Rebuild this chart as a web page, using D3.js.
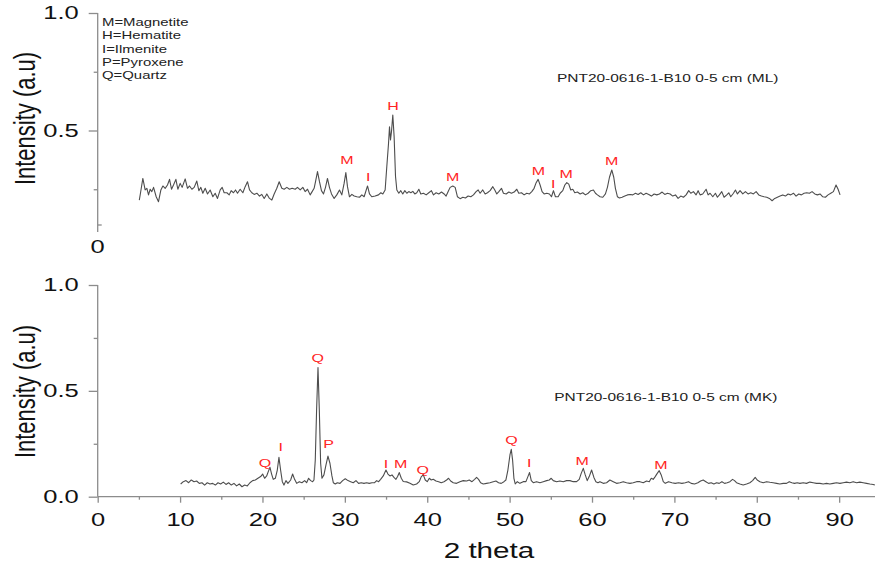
<!DOCTYPE html>
<html>
<head>
<meta charset="utf-8">
<script src="https://cdn.jsdelivr.net/npm/d3@7"></script>
<style>
body { margin: 0; background: #fff; }
text { font-family: "Liberation Sans", Arial, sans-serif; fill: #111; }
</style>
</head>
<body>
<div id="chart"></div>
<script>
// data
const mlTheta = [5.05,5.20,5.48,5.76,5.97,6.17,6.37,6.57,6.78,7.10,7.38,7.67,7.91,8.19,8.47,8.72,8.96,9.20,9.49,9.73,10.01,10.25,10.62,10.90,11.15,11.43,11.71,12.03,12.28,12.52,12.76,13.05,13.33,13.65,13.98,14.26,14.54,14.87,15.11,15.35,15.68,15.96,16.20,16.48,16.73,16.97,17.29,17.62,17.90,18.18,18.43,18.71,18.99,19.32,19.64,19.92,20.21,20.53,20.85,21.14,21.42,21.74,22.03,22.35,22.63,22.96,23.28,23.60,23.97,24.25,24.58,24.90,25.18,25.47,25.79,26.03,26.27,26.44,26.68,26.92,27.16,27.41,27.65,27.89,28.13,28.38,28.70,29.02,29.35,29.63,29.91,30.12,30.32,30.56,30.85,31.13,31.45,31.78,32.06,32.34,32.75,32.99,33.27,33.68,34.08,34.37,34.61,34.89,35.09,35.30,35.42,35.54,35.66,35.82,35.98,36.15,36.31,36.55,36.79,37.03,37.28,37.52,37.76,38.01,38.25,38.49,38.73,38.98,39.22,39.54,39.87,40.19,40.51,40.76,41.08,41.40,41.73,42.05,42.29,42.54,42.78,43.10,43.39,43.67,43.99,44.32,44.64,44.96,45.29,45.61,45.93,46.18,46.42,46.74,47.03,47.31,47.63,47.96,48.20,48.44,48.69,49.01,49.25,49.58,49.90,50.22,50.55,50.87,51.11,51.44,51.76,52.08,52.41,52.69,52.97,53.22,53.46,53.70,53.94,54.19,54.51,54.83,55.08,55.32,55.56,55.89,56.13,56.45,56.70,56.94,57.18,57.42,57.67,57.91,58.23,58.56,58.88,59.20,59.53,59.85,60.17,60.42,60.66,60.98,61.31,61.63,61.87,62.12,62.40,62.64,62.84,63.09,63.33,63.65,63.98,64.30,64.62,64.95,65.27,65.60,65.92,66.24,66.57,66.89,67.21,67.54,67.86,68.18,68.51,68.83,69.16,69.48,69.80,70.13,70.45,70.77,71.10,71.42,71.74,71.99,72.31,72.63,72.88,73.12,73.44,73.85,74.09,74.33,74.66,74.98,75.22,75.46,75.75,76.03,76.36,76.60,76.84,77.17,77.41,77.65,77.97,78.30,78.62,78.94,79.27,79.59,79.92,80.24,80.56,80.89,81.21,81.53,81.86,82.18,82.50,82.83,83.15,83.48,83.80,84.12,84.45,84.77,85.09,85.42,85.74,86.06,86.39,86.71,87.04,87.36,87.68,88.01,88.33,88.65,88.98,89.30,89.62,89.87,90.11];
const mlIntensity = [0.204,0.235,0.296,0.247,0.254,0.226,0.250,0.240,0.258,0.218,0.197,0.247,0.264,0.254,0.268,0.292,0.250,0.268,0.292,0.250,0.275,0.258,0.294,0.254,0.264,0.250,0.258,0.285,0.244,0.258,0.233,0.254,0.230,0.247,0.218,0.233,0.211,0.247,0.258,0.235,0.235,0.226,0.244,0.235,0.247,0.233,0.250,0.235,0.261,0.282,0.247,0.235,0.228,0.233,0.221,0.228,0.211,0.230,0.211,0.204,0.230,0.254,0.282,0.254,0.250,0.258,0.250,0.254,0.250,0.258,0.247,0.258,0.240,0.250,0.226,0.240,0.254,0.282,0.325,0.282,0.244,0.230,0.258,0.296,0.258,0.230,0.211,0.226,0.247,0.226,0.275,0.321,0.261,0.218,0.228,0.221,0.218,0.216,0.226,0.218,0.264,0.230,0.218,0.221,0.226,0.235,0.230,0.247,0.346,0.445,0.516,0.460,0.495,0.566,0.474,0.304,0.247,0.233,0.244,0.230,0.244,0.233,0.240,0.235,0.241,0.230,0.235,0.250,0.230,0.233,0.226,0.235,0.244,0.226,0.235,0.230,0.238,0.230,0.221,0.240,0.258,0.264,0.258,0.218,0.210,0.216,0.213,0.221,0.218,0.226,0.240,0.247,0.233,0.247,0.230,0.235,0.244,0.261,0.247,0.230,0.240,0.254,0.233,0.230,0.238,0.233,0.238,0.250,0.233,0.235,0.226,0.233,0.230,0.240,0.254,0.278,0.292,0.268,0.240,0.230,0.233,0.230,0.218,0.244,0.218,0.218,0.233,0.244,0.268,0.278,0.272,0.247,0.250,0.235,0.238,0.230,0.235,0.226,0.233,0.244,0.247,0.233,0.226,0.218,0.216,0.230,0.258,0.301,0.332,0.301,0.254,0.218,0.213,0.216,0.221,0.226,0.228,0.226,0.233,0.228,0.235,0.226,0.233,0.228,0.221,0.230,0.226,0.230,0.238,0.228,0.233,0.230,0.221,0.226,0.211,0.221,0.216,0.226,0.244,0.233,0.240,0.226,0.244,0.226,0.230,0.250,0.226,0.233,0.218,0.233,0.216,0.226,0.240,0.216,0.226,0.235,0.218,0.233,0.247,0.230,0.244,0.230,0.240,0.230,0.235,0.230,0.240,0.226,0.221,0.218,0.216,0.211,0.201,0.211,0.216,0.221,0.226,0.221,0.230,0.226,0.233,0.221,0.230,0.226,0.233,0.235,0.233,0.240,0.230,0.226,0.230,0.218,0.216,0.226,0.233,0.240,0.268,0.250,0.226];

const mkTheta = [10.07,10.39,10.72,11.04,11.36,11.69,12.01,12.33,12.66,12.98,13.30,13.63,13.95,14.28,14.60,14.92,15.25,15.57,15.89,16.22,16.54,16.86,17.19,17.51,17.84,18.16,18.48,18.81,19.13,19.45,19.78,20.02,20.26,20.51,20.75,20.91,21.11,21.31,21.56,21.80,22.00,22.20,22.41,22.61,22.85,23.09,23.42,23.66,23.90,24.15,24.47,24.79,25.12,25.36,25.60,25.85,26.09,26.25,26.41,26.57,26.74,26.90,27.06,27.22,27.46,27.71,27.95,28.19,28.43,28.60,28.84,29.08,29.41,29.73,30.05,30.38,30.70,31.02,31.35,31.67,31.99,32.32,32.64,32.96,33.29,33.61,33.86,34.10,34.34,34.66,34.99,35.23,35.47,35.72,35.96,36.20,36.40,36.61,36.85,37.09,37.50,37.90,38.30,38.71,39.03,39.28,39.52,39.76,40.00,40.25,40.49,40.73,41.06,41.38,41.70,42.03,42.35,42.59,42.84,43.16,43.56,43.97,44.37,44.78,45.10,45.43,45.75,45.99,46.23,46.48,46.80,47.20,47.61,48.01,48.34,48.66,48.98,49.31,49.55,49.79,50.04,50.20,50.36,50.52,50.68,50.93,51.25,51.65,51.98,52.22,52.42,52.63,52.87,53.27,53.68,54.08,54.49,54.81,55.05,55.30,55.70,56.10,56.51,56.91,57.32,57.72,58.13,58.45,58.69,58.94,59.18,59.42,59.66,59.95,60.23,60.47,60.72,60.96,61.36,61.77,62.17,62.58,62.98,63.39,63.79,64.19,64.60,65.00,65.41,65.81,66.22,66.62,66.95,67.19,67.43,67.67,67.92,68.16,68.40,68.65,68.89,69.29,69.70,70.10,70.51,70.91,71.32,71.72,72.04,72.45,72.85,73.18,73.50,73.82,74.15,74.47,74.79,75.12,75.44,75.77,76.09,76.41,76.74,77.06,77.30,77.54,77.95,78.35,78.76,79.16,79.49,79.81,80.05,80.38,80.78,81.19,81.59,81.99,82.40,82.80,83.21,83.61,83.94,84.26,84.58,84.91,85.23,85.64,86.04,86.44,86.85,87.25,87.66,88.06,88.47,88.87,89.28,89.68,90.09,90.49,90.89,91.30,91.70,92.11,92.51,92.92,93.32,93.73,94.13,94.33];
const mkIntensity = [0.060,0.071,0.076,0.066,0.079,0.071,0.074,0.063,0.066,0.055,0.066,0.060,0.063,0.055,0.066,0.060,0.069,0.058,0.066,0.055,0.063,0.051,0.060,0.047,0.055,0.051,0.066,0.076,0.079,0.087,0.095,0.107,0.087,0.098,0.123,0.139,0.107,0.082,0.087,0.126,0.186,0.126,0.071,0.055,0.076,0.063,0.079,0.107,0.082,0.063,0.071,0.066,0.076,0.066,0.087,0.076,0.071,0.079,0.173,0.410,0.610,0.410,0.158,0.087,0.103,0.150,0.192,0.158,0.098,0.066,0.060,0.066,0.063,0.076,0.085,0.076,0.071,0.066,0.076,0.063,0.066,0.063,0.066,0.063,0.066,0.066,0.076,0.071,0.082,0.098,0.126,0.107,0.098,0.103,0.091,0.082,0.095,0.114,0.087,0.072,0.070,0.064,0.055,0.060,0.071,0.095,0.103,0.079,0.071,0.087,0.079,0.082,0.074,0.071,0.066,0.071,0.079,0.087,0.074,0.066,0.063,0.071,0.076,0.074,0.079,0.071,0.082,0.091,0.082,0.066,0.060,0.063,0.066,0.071,0.074,0.066,0.063,0.071,0.079,0.126,0.197,0.224,0.173,0.087,0.060,0.071,0.063,0.071,0.071,0.095,0.114,0.076,0.066,0.071,0.066,0.071,0.076,0.079,0.087,0.076,0.071,0.074,0.071,0.076,0.076,0.071,0.071,0.082,0.110,0.134,0.103,0.076,0.095,0.126,0.091,0.071,0.066,0.071,0.063,0.066,0.079,0.071,0.063,0.066,0.071,0.066,0.063,0.066,0.071,0.071,0.066,0.074,0.071,0.087,0.082,0.095,0.110,0.123,0.103,0.071,0.063,0.071,0.066,0.063,0.066,0.063,0.066,0.071,0.063,0.060,0.066,0.074,0.079,0.071,0.063,0.066,0.060,0.066,0.063,0.071,0.063,0.066,0.071,0.082,0.076,0.066,0.060,0.055,0.060,0.066,0.076,0.091,0.079,0.071,0.066,0.071,0.068,0.066,0.063,0.060,0.063,0.063,0.071,0.066,0.063,0.066,0.063,0.066,0.063,0.069,0.066,0.063,0.063,0.060,0.063,0.060,0.063,0.066,0.063,0.066,0.069,0.066,0.071,0.066,0.069,0.066,0.063,0.060,0.058,0.055];

// phase labels: letter, 2theta, intensity of label centre
const mlPeakLabels = ["M","I","H","M","M","I","M","M"];
const mlPeakTheta = [30.24,32.83,35.86,43.1,53.5,55.3,56.86,62.4];
const mlPeakY = [0.377,0.301,0.606,0.301,0.329,0.275,0.315,0.370];
const mkPeakLabels = ["Q","I","Q","P","I","M","Q","Q","I","M","M"];
const mkPeakTheta = [20.3,22.21,26.7,28.03,34.99,36.77,39.44,50.24,52.38,58.81,68.36];
const mkPeakY = [0.161,0.236,0.654,0.248,0.154,0.154,0.129,0.268,0.158,0.170,0.150];

const legendLines = ["M=Magnetite","H=Hematite","I=Ilmenite","P=Pyroxene","Q=Quartz"];
const titleML = "PNT20-0616-1-B10 0-5 cm (ML)";
const titleMK = "PNT20-0616-1-B10 0-5 cm (MK)";
const xMajor = [0,10,20,30,40,50,60,70,80,90];
const xMinor = [5,15,25,35,45,55,65,75,85];
const topYMajor = [0.5,1.0];
const botYMajor = [0,0.5,1.0];
const yMinor = [0.25,0.75];

//setup
const W = 875, H = 566;
const SX = 1.38; // the source picture is stretched sideways
const axisColor = "#8c8c8c";
const traceColor = "#4d4d4d";
const peakColor = "#ff2424";

const svg = d3.select("#chart").append("svg")
    .attr("width", W)
    .attr("height", H);

const x = d3.scaleLinear().domain([0, 94.35]).range([97.7, 875]);
const yTop = d3.scaleLinear().domain([0, 1]).range([248, 13]);
const yBot = d3.scaleLinear().domain([0, 1]).range([496.7, 285]);

function stretch(sel) {
    sel.each(function () {
        const t = d3.select(this);
        const tx = +t.attr("x") || 0;
        t.attr("x", tx / SX).attr("transform", "scale(" + SX + ",1)");
    });
}

function styleAxis(g) {
    g.select(".domain").remove();
    g.selectAll("line").attr("stroke", axisColor).attr("stroke-width", 1.3);
    g.selectAll("text").attr("fill", "#111").style("font-size", "18.5px");
    stretch(g.selectAll("text"));
}

function stretchedText(px, py, str, size, anchor, color) {
    return svg.append("text")
        .attr("transform", "translate(" + px + "," + py + ") scale(" + SX + ",1)")
        .attr("text-anchor", anchor)
        .style("font-size", size + "px")
        .style("fill", color || "#111")
        .text(str);
}

// top panel axis
svg.append("g")
    .attr("transform", "translate(" + x(0) + ",0)")
    .call(d3.axisLeft(yTop).tickValues(topYMajor).tickSize(9).tickSizeOuter(0)
        .tickPadding(10).tickFormat(d3.format(".1f")))
    .call(styleAxis);
svg.append("g")
    .attr("transform", "translate(" + x(0) + ",0)")
    .call(d3.axisLeft(yTop).tickValues(yMinor).tickSize(4).tickSizeOuter(0).tickFormat(""))
    .call(styleAxis);
svg.append("g")
    .attr("transform", "translate(" + x(0) + ",0)")
    .call(d3.axisRight(yTop).tickValues([0.1]).tickSize(4).tickSizeOuter(0).tickFormat(""))
    .call(styleAxis);
svg.append("line")
    .attr("x1", x(0)).attr("x2", x(0))
    .attr("y1", yTop(1)).attr("y2", yTop(0.068))
    .attr("stroke", axisColor).attr("stroke-width", 1.3);
stretchedText(x(0), 253.3, "0", 18.5, "middle");

// bottom panel axes
svg.append("g")
    .attr("transform", "translate(" + x(0) + ",0)")
    .call(d3.axisLeft(yBot).tickValues(botYMajor).tickSize(9).tickSizeOuter(0)
        .tickPadding(10).tickFormat(d3.format(".1f")))
    .call(styleAxis);
svg.append("g")
    .attr("transform", "translate(" + x(0) + ",0)")
    .call(d3.axisLeft(yBot).tickValues(yMinor).tickSize(4).tickSizeOuter(0).tickFormat(""))
    .call(styleAxis);
svg.append("g")
    .attr("transform", "translate(0," + yBot(0) + ")")
    .call(d3.axisBottom(x).tickValues(xMajor).tickSize(6).tickSizeOuter(0)
        .tickPadding(10).tickFormat(d3.format("d")))
    .call(styleAxis);
svg.append("g")
    .attr("transform", "translate(0," + yBot(0) + ")")
    .call(d3.axisBottom(x).tickValues(xMinor).tickSize(3).tickSizeOuter(0).tickFormat(""))
    .call(styleAxis);
svg.append("line")
    .attr("x1", x(0)).attr("x2", x(0))
    .attr("y1", yBot(1)).attr("y2", yBot(0))
    .attr("stroke", axisColor).attr("stroke-width", 1.3);
svg.append("line")
    .attr("x1", x(0)).attr("x2", x.range()[1])
    .attr("y1", yBot(0)).attr("y2", yBot(0))
    .attr("stroke", axisColor).attr("stroke-width", 1.3);

// traces
function trace(theta, inten, y) {
    svg.append("path")
        .datum(d3.zip(theta, inten))
        .attr("fill", "none")
        .attr("stroke", traceColor)
        .attr("stroke-width", 1.1)
        .attr("stroke-linejoin", "round")
        .attr("d", d3.line().x(d => x(d[0])).y(d => y(d[1])));
}
trace(mlTheta, mlIntensity, yTop);
trace(mkTheta, mkIntensity, yBot);

// peak letters
function peaks(labels, theta, ys, y) {
    labels.forEach((l, i) => {
        stretchedText(x(theta[i]), y(ys[i]) + 4.2, l, 11.6, "middle", peakColor);
    });
}
peaks(mlPeakLabels, mlPeakTheta, mlPeakY, yTop);
peaks(mkPeakLabels, mkPeakTheta, mkPeakY, yBot);

// legend + titles
legendLines.forEach((l, i) => {
    stretchedText(102, 26 + i * 13.3, l, 10.8, "start", "#222");
});
stretchedText(557, 82, titleML, 11.2, "start", "#222");
stretchedText(554.3, 401, titleMK, 11.2, "start", "#222");

// axis titles
function yTitle(cy) {
    svg.append("text")
        .attr("transform", "translate(34.5," + cy + ") scale(" + SX + ",1) rotate(-90)")
        .attr("text-anchor", "middle")
        .style("font-size", "22px")
        .text("Intensity (a.u)");
}
yTitle(118.5);
yTitle(391.5);
stretchedText(489, 558, "2 theta", 21.5, "middle");
</script>
</body>
</html>
